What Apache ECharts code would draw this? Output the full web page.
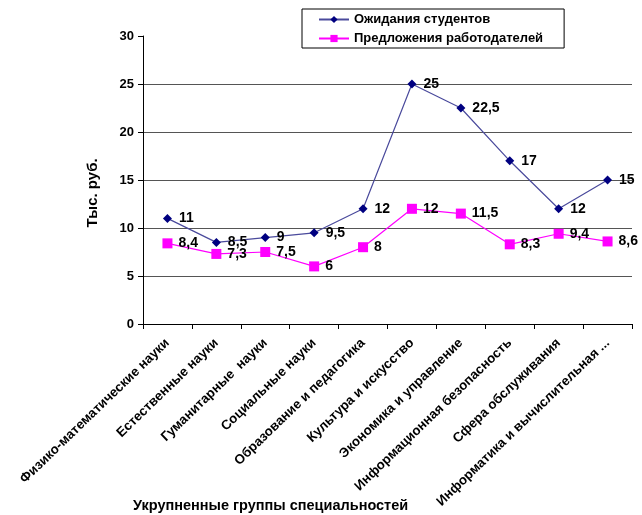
<!DOCTYPE html>
<html><head><meta charset="utf-8">
<script src="https://cdn.jsdelivr.net/npm/echarts@6/dist/echarts.min.js"></script>
<style>html,body{margin:0;padding:0;background:#fff}#c{width:642px;height:515px}</style>
</head><body><div id="c"></div>
<script>
const categories = ['Физико-математические науки','Естественные науки','Гуманитарные  науки','Социальные науки','Образование и педагогика','Культура и искусство','Экономика и управление','Информационная безопасность','Сфера обслуживания','Информатика и вычислительная ...'];
const studentExpectations = [11, 8.5, 9, 9.5, 12, 25, 22.5, 17, 12, 15];
const employerOffers = [8.4, 7.3, 7.5, 6, 8, 12, 11.5, 8.3, 9.4, 8.6];
const yTicks = [0, 5, 10, 15, 20, 25, 30];
const seriesNames = ['Ожидания студентов','Предложения работодателей'];
const yAxisTitle = 'Тыс. руб.';
const xAxisTitle = 'Укрупненные группы специальностей';

const chart = echarts.init(document.getElementById('c'));
const fmt = p => String(p.value).replace('.', ',');
const font = 'Arial, "Liberation Sans", sans-serif';
chart.setOption({
  animation: false,
  grid: {left: 143, right: 10, top: 36, bottom: 191},
  legend: {
    left: 302, top: 9, orient: 'vertical',
    backgroundColor: '#fff', borderColor: '#000', borderWidth: 1,
    padding: [4, 21, 3, 16], itemGap: 6, itemWidth: 30, itemHeight: 9,
    textStyle: {fontFamily: font, fontWeight: 'bold', fontSize: 13, color: '#000'},
    data: seriesNames
  },
  xAxis: {
    type: 'category', data: categories, boundaryGap: true,
    axisLine: {lineStyle: {color: '#000', width: 1}},
    axisTick: {show: true, length: 5, lineStyle: {color: '#000'}},
    axisLabel: {rotate: 44, margin: 17, interval: 0, color: '#000', fontFamily: font, fontWeight: 'bold', fontSize: 13.3}
  },
  yAxis: {
    type: 'value', min: 0, max: 30, interval: 5,
    axisLine: {show: true, lineStyle: {color: '#000'}},
    axisTick: {show: true, length: 5, lineStyle: {color: '#000'}},
    axisLabel: {color: '#000', fontFamily: font, fontWeight: 'bold', fontSize: 13, margin: 9},
    splitLine: {show: true, lineStyle: {color: ['#000','#555','#555','#555','#555','#555','rgba(0,0,0,0)'], width: 1}}
  },
  series: [
    {
      name: seriesNames[0], type: 'line', data: studentExpectations,
      symbol: 'diamond', symbolSize: 9,
      lineStyle: {color: '#4a4a9c', width: 1.2},
      itemStyle: {color: '#000080'},
      label: {show: true, position: 'right', distance: 7, formatter: fmt, fontFamily: font, fontWeight: 'bold', fontSize: 14, color: '#000'}
    },
    {
      name: seriesNames[1], type: 'line', data: employerOffers,
      symbol: 'rect', symbolSize: 10,
      lineStyle: {color: '#ff00ff', width: 1.2},
      itemStyle: {color: '#ff00ff'},
      label: {show: true, position: 'right', distance: 6, formatter: fmt, fontFamily: font, fontWeight: 'bold', fontSize: 14, color: '#000'}
    }
  ],
  graphic: [
    {type: 'text', x: 93, y: 193, rotation: Math.PI / 2, style: {text: yAxisTitle, font: 'bold 15px ' + font, fill: '#000', textAlign: 'center', textVerticalAlign: 'middle'}},
    {type: 'text', left: 133, top: 498, style: {text: xAxisTitle, font: 'bold 14.5px ' + font, fill: '#000'}}
  ]
});
</script></body></html>
